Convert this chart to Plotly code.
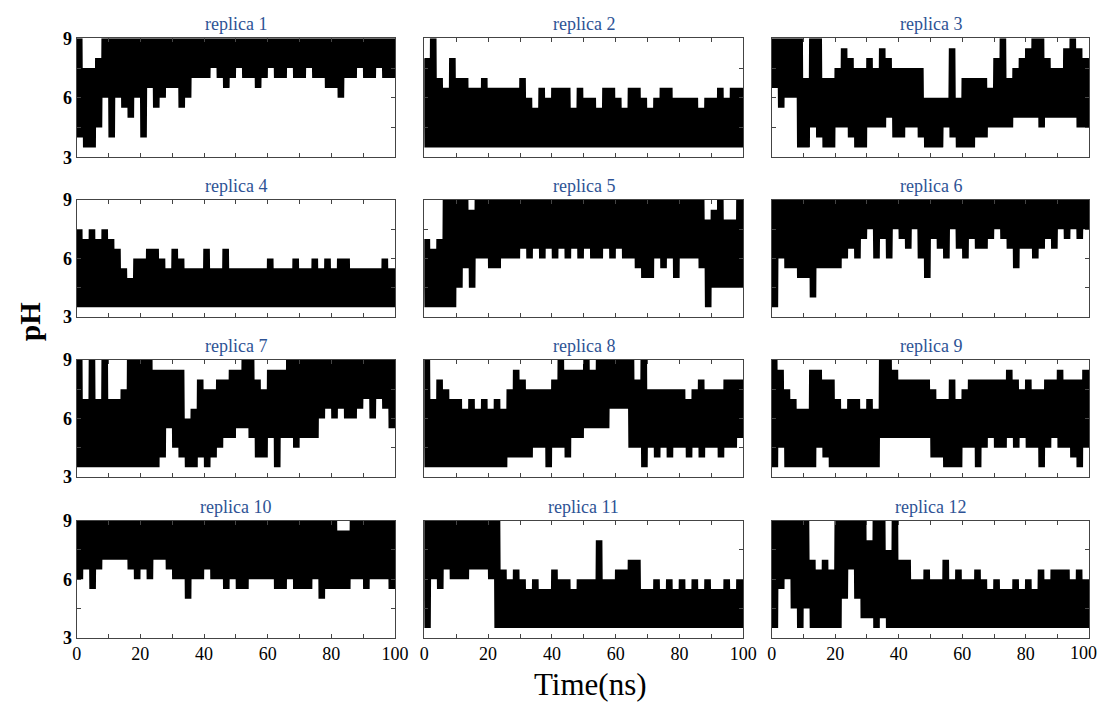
import plotly.graph_objects as go

# ---- data: pH visited by each replica, read per 2-ns window (upper / lower extent) ----
bin_starts = list(range(0, 100, 2))

r1_hi = [9, 7.5, 7.5, 8, 9, 9, 9, 9, 9, 9,
         9, 9, 9, 9, 9, 9, 9, 9, 9, 9,
         9, 9, 9, 9, 9, 9, 9, 9, 9, 9,
         9, 9, 9, 9, 9, 9, 9, 9, 9, 9,
         9, 9, 9, 9, 9, 9, 9, 9, 9, 9]
r1_lo = [4, 3.5, 3.5, 4.5, 6, 4, 6, 5.5, 5, 6,
         4, 6.5, 5.5, 6, 6.5, 6.5, 5.5, 6, 7, 7,
         7, 7.5, 7, 6.5, 7, 7.5, 7, 7, 6.5, 7,
         7.5, 7, 7, 7.5, 7, 7, 7.5, 7, 7, 6.5,
         6.5, 6, 7, 7, 7.5, 7, 7, 7.5, 7, 7]

r2_hi = [8, 9, 7, 6.5, 8, 7, 7, 6.5, 6.5, 7,
         6.5, 6.5, 6.5, 6.5, 6.5, 7, 6, 5.5, 6.5, 6,
         6.5, 6.5, 6.5, 5.5, 6.5, 6, 6, 5.5, 6.5, 6.5,
         6, 5.5, 6.5, 6.5, 6, 5.5, 6, 6.5, 6.5, 6,
         6, 6, 6, 5.5, 6, 6, 6.5, 6, 6.5, 6.5]
r2_lo = [3.5, 3.5, 3.5, 3.5, 3.5, 3.5, 3.5, 3.5, 3.5, 3.5,
         3.5, 3.5, 3.5, 3.5, 3.5, 3.5, 3.5, 3.5, 3.5, 3.5,
         3.5, 3.5, 3.5, 3.5, 3.5, 3.5, 3.5, 3.5, 3.5, 3.5,
         3.5, 3.5, 3.5, 3.5, 3.5, 3.5, 3.5, 3.5, 3.5, 3.5,
         3.5, 3.5, 3.5, 3.5, 3.5, 3.5, 3.5, 3.5, 3.5, 3.5]

r3_hi = [9, 9, 9, 9, 9, 7, 9, 9, 7, 7,
         7.5, 8.5, 8, 7.5, 7.5, 8, 7.5, 8.5, 8, 7.5,
         7.5, 7.5, 7.5, 7.5, 6, 6, 6, 6, 8.5, 6,
         7, 7, 7, 7, 6.5, 8, 9, 7, 7.5, 8,
         8.5, 9, 9, 8, 7.5, 7.5, 8.5, 9, 8.5, 8]
r3_lo = [6.5, 5.5, 6, 6, 3.5, 3.5, 4.5, 4, 3.5, 3.5,
         4.5, 4.5, 4, 3.5, 3.5, 4.5, 4.5, 4.5, 5, 4,
         4, 4.5, 4.5, 4, 3.5, 3.5, 3.5, 4.5, 4, 3.5,
         3.5, 3.5, 4, 4, 4.5, 4.5, 4.5, 4.5, 5, 5,
         5, 5, 4.5, 5, 5, 5, 5, 5, 4.5, 4.5]

r4_hi = [7.5, 7, 7.5, 7, 7.5, 7, 6.5, 5.5, 5, 6,
         6, 6.5, 6.5, 6, 5.5, 6.5, 6, 5.5, 5.5, 5.5,
         6.5, 5.5, 5.5, 6.5, 5.5, 5.5, 5.5, 5.5, 5.5, 5.5,
         6, 5.5, 5.5, 5.5, 6, 5.5, 5.5, 6, 5.5, 6,
         5.5, 6, 6, 5.5, 5.5, 5.5, 5.5, 5.5, 6, 5.5]
r4_lo = [3.5, 3.5, 3.5, 3.5, 3.5, 3.5, 3.5, 3.5, 3.5, 3.5,
         3.5, 3.5, 3.5, 3.5, 3.5, 3.5, 3.5, 3.5, 3.5, 3.5,
         3.5, 3.5, 3.5, 3.5, 3.5, 3.5, 3.5, 3.5, 3.5, 3.5,
         3.5, 3.5, 3.5, 3.5, 3.5, 3.5, 3.5, 3.5, 3.5, 3.5,
         3.5, 3.5, 3.5, 3.5, 3.5, 3.5, 3.5, 3.5, 3.5, 3.5]

r5_hi = [7, 6.5, 7, 9, 9, 9, 9, 8.5, 9, 9,
         9, 9, 9, 9, 9, 9, 9, 9, 9, 9,
         9, 9, 9, 9, 9, 9, 9, 9, 9, 9,
         9, 9, 9, 9, 9, 9, 9, 9, 9, 9,
         9, 9, 9, 9, 8, 8.5, 9, 8, 8, 9]
r5_lo = [3.5, 3.5, 3.5, 3.5, 3.5, 4.5, 5.5, 4.5, 6, 6,
         5.5, 5.5, 6, 6, 6, 6.5, 6, 6.5, 6, 6.5,
         6, 6.5, 6, 6.5, 6, 6.5, 6, 6, 6.5, 6,
         6.5, 6, 6, 5.5, 5, 5, 6, 5.5, 6, 5,
         6, 6, 6, 5.5, 3.5, 4.5, 4.5, 4.5, 4.5, 4.5]

r6_hi = [9, 9, 9, 9, 9, 9, 9, 9, 9, 9,
         9, 9, 9, 9, 9, 9, 9, 9, 9, 9,
         9, 9, 9, 9, 9, 9, 9, 9, 9, 9,
         9, 9, 9, 9, 9, 9, 9, 9, 9, 9,
         9, 9, 9, 9, 9, 9, 9, 9, 9, 9]
r6_lo = [3.5, 6, 5.5, 5.5, 5, 5, 4, 5.5, 5.5, 5.5,
         5.5, 6, 6.5, 6, 7, 7.5, 6, 7, 6, 7.5,
         7, 6.5, 7.5, 6, 5, 7, 6.5, 6, 7.5, 6.5,
         6, 7, 6.5, 6.5, 7, 7.5, 7, 6.5, 5.5, 6.5,
         6.5, 6, 6.5, 7, 6.5, 7.5, 7, 7.5, 7, 7.5]

r7_hi = [9, 7, 9, 7, 9, 7, 7, 7.5, 9, 9,
         9, 9, 8.5, 8.5, 8.5, 8.5, 8.5, 6, 6.5, 8,
         7.5, 7.5, 8, 8, 8.5, 8.5, 9, 9, 8, 7.5,
         8.5, 8.5, 8.5, 9, 9, 9, 9, 9, 9, 9,
         9, 9, 9, 9, 9, 9, 9, 9, 9, 9]
r7_lo = [3.5, 3.5, 3.5, 3.5, 3.5, 3.5, 3.5, 3.5, 3.5, 3.5,
         3.5, 3.5, 3.5, 4, 5.5, 4.5, 4, 3.5, 3.5, 4,
         3.5, 4, 4.5, 5, 5, 5.5, 5.5, 5, 4, 4,
         5, 3.5, 5, 5, 4.5, 5, 5, 5, 6, 6.5,
         6, 6.5, 6, 6, 6.5, 7, 6, 7, 6.5, 5.5]

r8_hi = [9, 7, 8, 7.5, 7, 7, 6.5, 7, 6.5, 7,
         6.5, 7, 6.5, 7.5, 8.5, 8, 7.5, 7.5, 7.5, 7.5,
         8, 9, 8.5, 8.5, 8.5, 9, 8.5, 9, 9, 9,
         9, 9, 9, 8, 9, 7.5, 7.5, 7.5, 7.5, 7.5,
         7.5, 7, 7.5, 8, 7.5, 7.5, 7.5, 8, 8, 8]
r8_lo = [3.5, 3.5, 3.5, 3.5, 3.5, 3.5, 3.5, 3.5, 3.5, 3.5,
         3.5, 3.5, 3.5, 4, 4, 4, 4, 4.5, 4.5, 3.5,
         4.5, 4.5, 4, 5, 5, 5.5, 5.5, 5.5, 5.5, 6.5,
         6.5, 6.5, 4.5, 4.5, 3.5, 4.5, 4, 4.5, 4, 4.5,
         4.5, 4, 4.5, 4, 4.5, 4.5, 4, 4.5, 4.5, 5]

r9_hi = [9, 8.5, 7.5, 7, 6.5, 6.5, 8.5, 8.5, 8, 8,
         7, 6.5, 7, 7, 6.5, 7, 6.5, 9, 9, 8.5,
         8, 8, 8, 8, 8, 7.5, 7, 7, 8, 7,
         7.5, 8, 8, 8, 8, 8, 8, 8.5, 8, 7.5,
         8, 7.5, 7.5, 8, 8, 8.5, 8, 8, 8, 8.5]
r9_lo = [3.5, 4.5, 3.5, 3.5, 3.5, 3.5, 3.5, 4.5, 4, 3.5,
         3.5, 3.5, 3.5, 3.5, 3.5, 3.5, 3.5, 5, 5, 5,
         5, 5, 5, 5, 5, 4, 4, 3.5, 3.5, 3.5,
         4.5, 4.5, 3.5, 4.5, 5, 4.5, 4.5, 5, 4.5, 5,
         4.5, 4.5, 3.5, 4.5, 5, 4.5, 4.5, 4, 3.5, 4.5]

r10_hi = [9, 9, 9, 9, 9, 9, 9, 9, 9, 9,
          9, 9, 9, 9, 9, 9, 9, 9, 9, 9,
          9, 9, 9, 9, 9, 9, 9, 9, 9, 9,
          9, 9, 9, 9, 9, 9, 9, 9, 9, 9,
          9, 8.5, 8.5, 9, 9, 9, 9, 9, 9, 9]
r10_lo = [6, 6.5, 5.5, 6.5, 7, 7, 7, 7, 6.5, 6,
          6.5, 6, 7, 7, 6.5, 6, 6, 5, 6, 6,
          6.5, 6, 6, 5.5, 6, 5.5, 5.5, 6, 6, 6,
          6, 5.5, 5.5, 6, 5.5, 5.5, 5.5, 6, 5, 5.5,
          5.5, 5.5, 5.5, 6, 6, 5.5, 6, 6, 6, 5.5]

r11_hi = [9, 9, 9, 9, 9, 9, 9, 9, 9, 9,
          9, 9, 6.5, 6, 6.5, 6, 5.5, 6, 5.5, 5.5,
          6.5, 6, 6, 5.5, 6, 6, 6, 8, 6, 6,
          6.5, 6.5, 7, 7, 5.5, 5.5, 6, 5.5, 6, 5.5,
          6, 5.5, 6, 5.5, 6, 5.5, 5.5, 6, 5.5, 6]
r11_lo = [3.5, 6, 5.5, 6.5, 6, 6, 6, 6.5, 6.5, 6.5,
          6, 3.5, 3.5, 3.5, 3.5, 3.5, 3.5, 3.5, 3.5, 3.5,
          3.5, 3.5, 3.5, 3.5, 3.5, 3.5, 3.5, 3.5, 3.5, 3.5,
          3.5, 3.5, 3.5, 3.5, 3.5, 3.5, 3.5, 3.5, 3.5, 3.5,
          3.5, 3.5, 3.5, 3.5, 3.5, 3.5, 3.5, 3.5, 3.5, 3.5]

r12_hi = [9, 9, 9, 9, 9, 9, 7, 6.5, 7, 6.5,
          9, 9, 9, 9, 9, 8, 9, 9, 7.5, 9,
          7, 7, 6, 6, 6.5, 6, 6, 7, 6, 6.5,
          6, 6, 6.5, 6, 5.5, 6, 5.5, 5.5, 6, 5.5,
          6, 5.5, 6.5, 6, 6.5, 6.5, 6.5, 6, 6.5, 6]
r12_lo = [3.5, 5.5, 6, 4.5, 3.5, 4.5, 3.5, 3.5, 3.5, 3.5,
          3.5, 5, 6.5, 5, 4, 4, 3.5, 4, 3.5, 3.5,
          3.5, 3.5, 3.5, 3.5, 3.5, 3.5, 3.5, 3.5, 3.5, 3.5,
          3.5, 3.5, 3.5, 3.5, 3.5, 3.5, 3.5, 3.5, 3.5, 3.5,
          3.5, 3.5, 3.5, 3.5, 3.5, 3.5, 3.5, 3.5, 3.5, 3.5]

replica_names = ["replica %d" % i for i in range(1, 13)]
series_hi = [r1_hi, r2_hi, r3_hi, r4_hi, r5_hi, r6_hi, r7_hi, r8_hi, r9_hi, r10_hi, r11_hi, r12_hi]
series_lo = [r1_lo, r2_lo, r3_lo, r4_lo, r5_lo, r6_lo, r7_lo, r8_lo, r9_lo, r10_lo, r11_lo, r12_lo]

x_ticks = [0, 10, 20, 30, 40, 50, 60, 70, 80, 90, 100]
x_ticktext = ["0", "", "20", "", "40", "", "60", "", "80", "", "100"]
y_ticks = [3, 4.5, 6, 7.5, 9]
y_ticktext = ["3", "", "6", "", "9"]

# ---- layout geometry (pixels of the 1101x702 page) ----
W, H = 1101, 702
col_px = [(76.7, 395.0), (424.3, 743.3), (771.7, 1089.3)]
row_px = [(38.3, 157.3), (200.0, 317.0), (360.0, 477.0), (520.7, 637.7)]
zig = [0.0, 0.2, 0.4, 0.6, 0.8, 1.0, 1.2, 1.4, 1.6, 1.8]  # sub-steps inside each 2-ns window

serif = "Liberation Serif, Times New Roman, serif"
title_color = "#2E5395"
axis_color = "#444444"
tick_font = dict(family=serif, size=18, color="black")

fig = go.Figure()
layout = dict(width=W, height=H, margin=dict(l=0, r=0, t=0, b=0, autoexpand=False),
              paper_bgcolor="white", plot_bgcolor="white", showlegend=False)
annotations = []

for i in range(12):
    r, c = divmod(i, 3)
    n = i + 1
    xs, ys = [], []
    for k, t0 in enumerate(bin_starts):
        for j, dt in enumerate(zig):
            xs.append(t0 + dt)
            ys.append(series_hi[i][k] if j % 2 == 0 else series_lo[i][k])
    xs.append(100)
    ys.append(series_hi[i][-1])
    xa = "x" if n == 1 else "x%d" % n
    ya = "y" if n == 1 else "y%d" % n
    fig.add_trace(go.Scatter(x=xs, y=ys, mode="lines", xaxis=xa, yaxis=ya,
                             line=dict(color="black", width=1.5),
                             hoverinfo="skip", showlegend=False))
    x0, x1 = col_px[c][0] / W, col_px[c][1] / W
    y0, y1 = 1 - row_px[r][1] / H, 1 - row_px[r][0] / H
    common = dict(showline=True, linecolor=axis_color, linewidth=1, mirror="ticks",
                  ticks="inside", ticklen=4, tickcolor=axis_color, tickwidth=1,
                  showgrid=False, zeroline=False, fixedrange=True, automargin=False,
                  ticklabeloverflow="allow")
    # last column: the "100" label is placed separately so it stays inside the page
    ttext = x_ticktext if c < 2 else x_ticktext[:-1] + [""]
    layout["xaxis" if n == 1 else "xaxis%d" % n] = dict(
        domain=[x0, x1], range=[0, 100], anchor=ya,
        tickmode="array", tickvals=x_ticks, ticktext=ttext,
        showticklabels=(r == 3), tickfont=tick_font, **common)
    layout["yaxis" if n == 1 else "yaxis%d" % n] = dict(
        domain=[y0, y1], range=[3, 9], anchor=xa,
        tickmode="array", tickvals=y_ticks, ticktext=y_ticktext,
        showticklabels=(c == 0),
        tickfont=dict(family=serif, size=18, color="black", weight="bold"), **common)
    annotations.append(dict(text=replica_names[i], xref="paper", yref="paper",
                            x=(x0 + x1) / 2, y=y1, xanchor="center", yanchor="bottom",
                            yshift=2, showarrow=False,
                            font=dict(family=serif, size=18, color=title_color)))
    if r == 3 and c == 2:
        annotations.append(dict(text=x_ticktext[-1], xref="paper", yref="paper",
                                x=1099 / W, y=y0, xanchor="right", yanchor="top",
                                yshift=-3, showarrow=False, font=tick_font))

annotations.append(dict(text="pH", xref="paper", yref="paper", x=30 / W, y=1 - 322 / H,
                        xanchor="center", yanchor="middle", textangle=-90, showarrow=False,
                        font=dict(family=serif, size=29, color="black", weight="bold")))
annotations.append(dict(text="Time(ns)", xref="paper", yref="paper", x=590 / W, y=1 - 684 / H,
                        xanchor="center", yanchor="middle", showarrow=False,
                        font=dict(family=serif, size=31, color="black")))
layout["annotations"] = annotations
fig.update_layout(**layout)
fig.write_html("out.html")
